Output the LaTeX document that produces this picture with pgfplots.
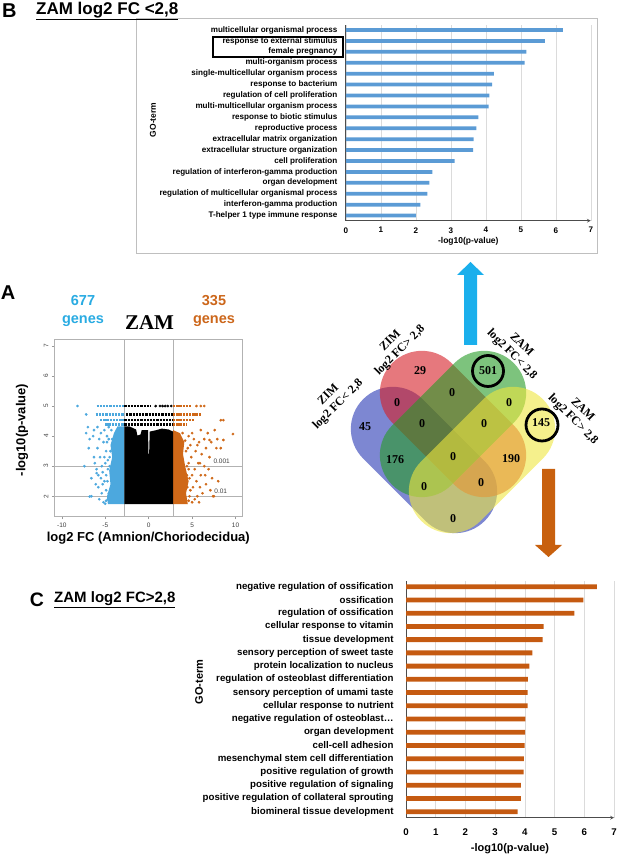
\documentclass[border=0pt]{standalone}
\usepackage{fontspec}
\setmainfont{Liberation Sans}
\newfontfamily\tnr{Liberation Serif}
\usepackage{pgfplots}
\pgfplotsset{compat=1.18}
\usetikzlibrary{arrows.meta}

\definecolor{barblue}{RGB}{91,155,213}
\definecolor{barorange}{RGB}{197,90,17}
\definecolor{vbl}{RGB}{76,168,222}
\definecolor{vor}{RGB}{207,104,24}
\definecolor{txtblue}{RGB}{41,171,226}
\definecolor{txtorange}{RGB}{204,102,26}
\definecolor{arrblue}{RGB}{26,175,236}
\definecolor{arrorange}{RGB}{200,96,14}
\definecolor{vennblue}{RGB}{38,55,180}
\definecolor{vennred}{RGB}{213,30,38}
\definecolor{venngreen}{RGB}{38,155,38}
\definecolor{vennyellow}{RGB}{238,230,63}

\newcommand{\fs}[1]{\fontsize{#1}{#1}\selectfont}

\pgfplotsset{
  gobar/.style={
    anchor=south west, scale only axis, xbar,
    xmin=0, xmax=7, xtick={0,...,7}, ytick={0,...,17},
    axis x line=bottom, axis y line*=left,
    axis line style={black!70, line width=0.7pt},
    xmajorgrids, grid style={black!14, line width=0.6pt},
    tick style={draw=none},
    yticklabel style={inner sep=0pt},
    /pgf/number format/assume math mode=true,
  },
  row/.style={line width=2.3pt, dash pattern=on 2.3pt off 0.9pt},
  dots/.style={only marks, mark=*, mark size=1.15pt, mark options={draw=none}},
}

\begin{document}
\begin{tikzpicture}
\path[use as bounding box] (0,0) rectangle (617pt,856pt);

% ---------------- panel B ----------------
\draw[black!25, line width=0.6pt] (136pt,603pt) rectangle (597pt,838pt);
\node[anchor=west, inner sep=0pt] at (2pt,845pt) {\fs{20}\bfseries B};
\node[anchor=west, inner sep=0pt] at (36pt,845pt) {\fs{17}\bfseries\underline{ZAM log2 FC <2,8}};

\begin{axis}[gobar,
  at={(345.8pt,635.3pt)}, width=245pt, height=195.7pt,
  bar width=3.8pt, ymin=-0.467, ymax=17.46,
  tick label style={font=\fs{8.1}\bfseries},
  yticklabel style={xshift=-4pt},
  xticklabel style={yshift=-1pt},
  yticklabels={{T-helper 1 type immune response},{interferon-gamma production},
    {regulation of multicellular organismal process},{organ development},
    {regulation of interferon-gamma production},{cell proliferation},
    {extracellular structure organization},{extracellular matrix organization},
    {reproductive process},{response to biotic stimulus},
    {multi-multicellular organism process},{regulation of cell proliferation},
    {response to bacterium},{single-multicellular organism process},
    {multi-organism process},{female pregnancy},
    {response to external stimulus},{multicellular organismal process}},
  xlabel={-log10(p-value)}, ylabel={GO-term},
  label style={font=\fs{8.5}\bfseries},
  xlabel style={at={(axis description cs:0.5,0)}, anchor=center, yshift=-20.3pt},
  ylabel style={at={(axis description cs:-0.787,0.515)}, anchor=center},
]
\addplot[fill=barblue, draw=none] coordinates {
  (2.00,0) (2.13,1) (2.33,2) (2.39,3) (2.47,4) (3.11,5) (3.64,6) (3.65,7) (3.73,8)
  (3.79,9) (4.08,10) (4.10,11) (4.18,12) (4.23,13) (5.11,14) (5.16,15) (5.69,16) (6.20,17)
};
\end{axis}
\draw[line width=2pt] (213pt,819pt) rectangle (343pt,799pt);

% ---------------- panel A (volcano) ----------------
\node[inner sep=0pt] at (8pt,563pt) {\fs{20}\bfseries A};
\node[txtblue, align=center, inner sep=0pt, font=\bfseries\fontsize{14.5}{18}\selectfont] at (83pt,545pt) {677\\genes};
\node[txtorange, align=center, inner sep=0pt, font=\bfseries\fontsize{14.5}{18}\selectfont] at (214pt,545pt) {335\\genes};
\node[inner sep=0pt] at (149.5pt,533pt) {\tnr\bfseries\fs{21}ZAM};

\begin{axis}[
  at={(54.3pt,339.3pt)}, anchor=south west, scale only axis,
  width=188pt, height=177.7pt,
  xmin=-10.87, xmax=10.78, ymin=1.32, ymax=7.23,
  axis line style={black!30, line width=0.8pt},
  xtick={-10,-5,0,5,10}, ytick={2,...,7},
  tick align=outside, major tick length=2.5pt,
  tick style={black!40, line width=0.5pt},
  xtick pos=bottom, ytick pos=left,
  tick label style={font=\fs{6.5}, text=black!75},
  /pgf/number format/assume math mode=true,
  yticklabel style={rotate=90, anchor=south},
  xlabel={log2 FC (Amnion/Choriodecidua)}, ylabel={-log10(p-value)},
  label style={font=\fs{13}\bfseries},
  xlabel style={at={(axis description cs:0.5,0)}, anchor=center, yshift=-21.5pt},
  ylabel style={at={(axis description cs:-0.172,0.488)}, anchor=center},
]
\addplot[black!30, line width=0.8pt] coordinates {(-2.8,1.32) (-2.8,7.23)};
\addplot[black!30, line width=0.8pt] coordinates {(2.8,1.32) (2.8,7.23)};
\addplot[black!30, line width=0.8pt] coordinates {(-10.87,2) (10.78,2)};
\addplot[black!30, line width=0.8pt] coordinates {(-10.87,3) (10.78,3)};
% dense cores
\addplot[fill=vbl, draw=none] coordinates {
  (-2.8,1.74) (-4.7,1.74) (-4.8,2.0) (-4.4,2.4) (-4.55,2.85) (-4.2,3.3)
  (-4.4,3.7) (-4.0,4.1) (-3.6,4.32) (-2.8,4.32)};
\addplot[fill=vor, draw=none] coordinates {
  (2.8,1.74) (4.5,1.74) (4.3,2.1) (4.6,2.5) (4.2,3.0) (3.95,3.4)
  (4.1,3.8) (3.6,4.1) (2.8,4.2)};
\addplot[fill=black, draw=none] coordinates {
  (-2.8,1.74) (2.8,1.74) (2.8,4.15) (2.3,4.22) (1.5,4.25) (0.9,4.2) (0.12,4.15)
  (0.05,3.4) (-0.02,3.4) (-0.08,4.2) (-0.8,4.2) (-0.95,4.05) (-1.3,4.02)
  (-1.45,4.22) (-2.2,4.32) (-2.8,4.32)};
% rows of capped p-values
\addplot[black, row] coordinates {(-2.8,5.0) (0.3,5.0)};
\addplot[black, row] coordinates {(-2.6,4.72) (2.8,4.72)};
\addplot[black, row] coordinates {(-2.8,4.53) (2.8,4.53)};
\addplot[black, row] coordinates {(-2.8,4.39) (2.8,4.39)};
\addplot[black, dots] coordinates {(0.8,5) (1.3,5) (1.6,5) (1.9,5) (2.2,5) (2.6,5)};
\addplot[vbl, row] coordinates {(-6.0,5.0) (-2.8,5.0)};
\addplot[vbl, row] coordinates {(-6.1,4.72) (-2.8,4.72)};
\addplot[vbl, row] coordinates {(-5.6,4.53) (-2.8,4.53)};
\addplot[vbl, row] coordinates {(-5.0,4.39) (-2.8,4.39)};
\addplot[vor, row] coordinates {(2.8,5.0) (5.0,5.0)};
\addplot[vor, row] coordinates {(2.8,4.72) (6.1,4.72)};
\addplot[vor, row] coordinates {(2.8,4.53) (5.2,4.53)};
\addplot[vor, row] coordinates {(2.8,4.39) (4.4,4.39)};
% sparse points
\addplot[vbl, dots] coordinates {
  (-8.2,5) (-7.2,4.72) (-5.2,1.8) (-5.4,2.1) (-5.1,2.5) (-5.3,2.8) (-5.0,3.1)
  (-5.6,3.3) (-4.9,3.5) (-5.2,3.8) (-4.8,4.0) (-5.5,4.1) (-4.6,4.3) (-5.8,2.3)
  (-6.0,2.9) (-5.9,3.6) (-6.3,3.3) (-6.6,2.6) (-6.8,3.9) (-6.3,4.2) (-7.0,4.3)
  (-7.4,3.0) (-6.6,2.0) (-6.8,1.99) (-5.7,1.9) (-5.5,2.6) (-5.4,3.0) (-5.7,3.9)
  (-6.1,2.4) (-6.9,3.6) (-5.9,4.3) (-4.9,2.2) (-5.1,3.3) (-5.3,2.4) (-4.7,1.9)
  (-6.2,3.1) (-5.8,2.7) (-7.2,4.1) (-6.0,2.77) (-6.4,4.0) (-5.0,1.75) (-4.9,2.7)
  (-4.7,3.2) (-4.8,3.8) (-5.1,4.2) (-4.6,2.1) (-4.75,2.5) (-4.5,3.0) (-4.4,3.5)
  (-4.6,3.9) (-4.3,4.2) (-4.9,1.85) (-4.7,2.9) (-4.5,3.3) (-4.2,3.9)};
\addplot[vor, dots] coordinates {
  (5.5,5) (6.0,5) (6.4,5) (8.3,4.53) (8.6,4.53)
  (5.0,1.8) (5.3,1.9) (5.6,2.0) (5.1,2.3) (5.5,2.5) (5.9,2.3) (6.2,2.1) (6.0,2.7)
  (5.3,2.9) (5.7,3.1) (6.4,3.0) (6.9,2.9) (7.3,2.6) (4.9,3.3) (5.4,3.5) (6.1,3.4)
  (6.6,3.6) (7.0,3.3) (4.8,3.7) (5.2,3.9) (5.8,3.8) (6.4,3.9) (7.2,3.8) (7.9,3.9)
  (8.3,3.6) (9.7,4.07) (7.5,2.0) (8.0,2.5) (4.6,4.0) (5.0,4.1) (6.0,4.2) (6.8,4.1)
  (7.6,4.2) (4.4,2.7) (4.7,2.0) (5.8,1.8) (6.6,2.4) (7.1,2.2) (5.0,2.7) (5.6,3.7)
  (7.0,3.87) (7.8,3.6) (8.6,3.87) (5.9,3.1) (6.5,2.7) (7.4,2.0) (4.6,3.1)
  (4.6,1.85) (4.45,2.3) (4.7,2.6) (4.4,3.0) (4.3,3.5) (4.2,3.85) (3.9,4.1)
  (4.8,2.2) (4.6,2.9) (4.5,3.6)};
\node[font=\fs{6.5}, text=black!75] at (axis cs:8.4,3.18) {0.001};
\node[font=\fs{6.5}, text=black!75] at (axis cs:8.3,2.18) {0.01};
\end{axis}

% ---------------- Venn diagram ----------------
\begin{axis}[
  at={(0pt,0pt)}, anchor=south west, scale only axis,
  width=617pt, height=856pt, xmin=0, xmax=617, ymin=0, ymax=856,
  hide axis, clip=false,
]
\fill[vennblue, fill opacity=0.6, rotate around={-45:(axis cs:424,396)}, rounded corners=41.9pt]
  (axis cs:338,354) rectangle (axis cs:510,438);
\fill[vennred, fill opacity=0.6, rotate around={-45:(axis cs:453,432)}, rounded corners=41.9pt]
  (axis cs:367,390) rectangle (axis cs:539,474);
\fill[venngreen, fill opacity=0.6, rotate around={45:(axis cs:453,432)}, rounded corners=41.9pt]
  (axis cs:367,390) rectangle (axis cs:539,474);
\fill[vennyellow, fill opacity=0.6, rotate around={45:(axis cs:482,396)}, rounded corners=41.9pt]
  (axis cs:396,354) rectangle (axis cs:568,438);
\addplot[draw=none, nodes near coords, point meta=explicit symbolic,
  nodes near coords style={font=\tnr\bfseries\fs{12}, anchor=center, inner sep=0pt}]
  coordinates {
  (365,429) [45] (420,485) [29] (488,485) [501] (541,433) [145]
  (397,453) [0] (452,463) [0] (509,453) [0] (422,432) [0] (484,432) [0]
  (395,396) [176] (453,399) [0] (511,397) [190] (424,369) [0] (481,373) [0]
  (453,337) [0]};
\draw[line width=2.8pt] (axis cs:488,485) circle[radius=15.5];
\draw[line width=2.8pt] (axis cs:542,431) circle[radius=16];
\end{axis}

\tikzset{vlab/.style={align=center, inner sep=0pt, font=\tnr\bfseries\fontsize{12}{13.5}\selectfont}}
\node[vlab, rotate=45] at (333.5pt,456pt) {ZIM\\log2 FC< 2,8};
\node[vlab, rotate=45] at (395.5pt,510pt) {ZIM\\log2 FC> 2,8};
\node[vlab, rotate=-45] at (516.5pt,506pt) {ZAM\\log2 FC< 2,8};
\node[vlab, rotate=-45] at (577.5pt,441pt) {ZAM\\log2 FC> 2,8};

% arrows
\fill[arrblue] (464pt,511pt) -- (477pt,511pt) -- (477pt,581pt) -- (484pt,581pt)
  -- (470.5pt,594pt) -- (457pt,581pt) -- (464pt,581pt) -- cycle;
\fill[arrorange] (542pt,387pt) -- (555pt,387pt) -- (555pt,311pt) -- (562pt,311pt)
  -- (548.5pt,299pt) -- (535pt,311pt) -- (542pt,311pt) -- cycle;

% ---------------- panel C ----------------
\node[inner sep=0pt] at (37pt,256pt) {\fs{19.5}\bfseries C};
\node[anchor=west, inner sep=0pt] at (54pt,256pt) {\fs{15}\bfseries\underline{ZAM log2 FC>2,8}};

\begin{axis}[gobar,
  at={(406pt,38.3pt)}, width=208pt, height=237pt,
  bar width=4.8pt, ymin=-0.453, ymax=17.453,
  tick label style={font=\fs{9.7}\bfseries},
  yticklabel style={xshift=-8pt},
  xticklabel style={yshift=-5pt},
  yticklabels={{biomineral tissue development},{positive regulation of collateral sprouting},
    {positive regulation of signaling},{positive regulation of growth},
    {mesenchymal stem cell differentiation},{cell-cell adhesion},{organ development},
    {negative regulation of osteoblast…},{cellular response to nutrient},
    {sensory perception of umami taste},{regulation of osteoblast differentiation},
    {protein localization to nucleus},{sensory perception of sweet taste},
    {tissue development},{cellular response to vitamin},{regulation of ossification},
    {ossification},{negative regulation of ossification}},
  xlabel={-log10(p-value)}, ylabel={GO-term},
  label style={font=\fs{11}\bfseries},
  xlabel style={at={(axis description cs:0.5,0)}, anchor=center, yshift=-31.3pt},
  ylabel style={at={(axis description cs:-0.995,0.573)}, anchor=center},
]
\addplot[fill=barorange, draw=none] coordinates {
  (3.76,0) (3.87,1) (3.87,2) (3.96,3) (3.97,4) (3.99,5) (4.01,6) (4.02,7) (4.09,8)
  (4.09,9) (4.10,10) (4.15,11) (4.25,12) (4.60,13) (4.63,14) (5.67,15) (5.97,16) (6.42,17)
};
\end{axis}
\end{tikzpicture}
\end{document}
